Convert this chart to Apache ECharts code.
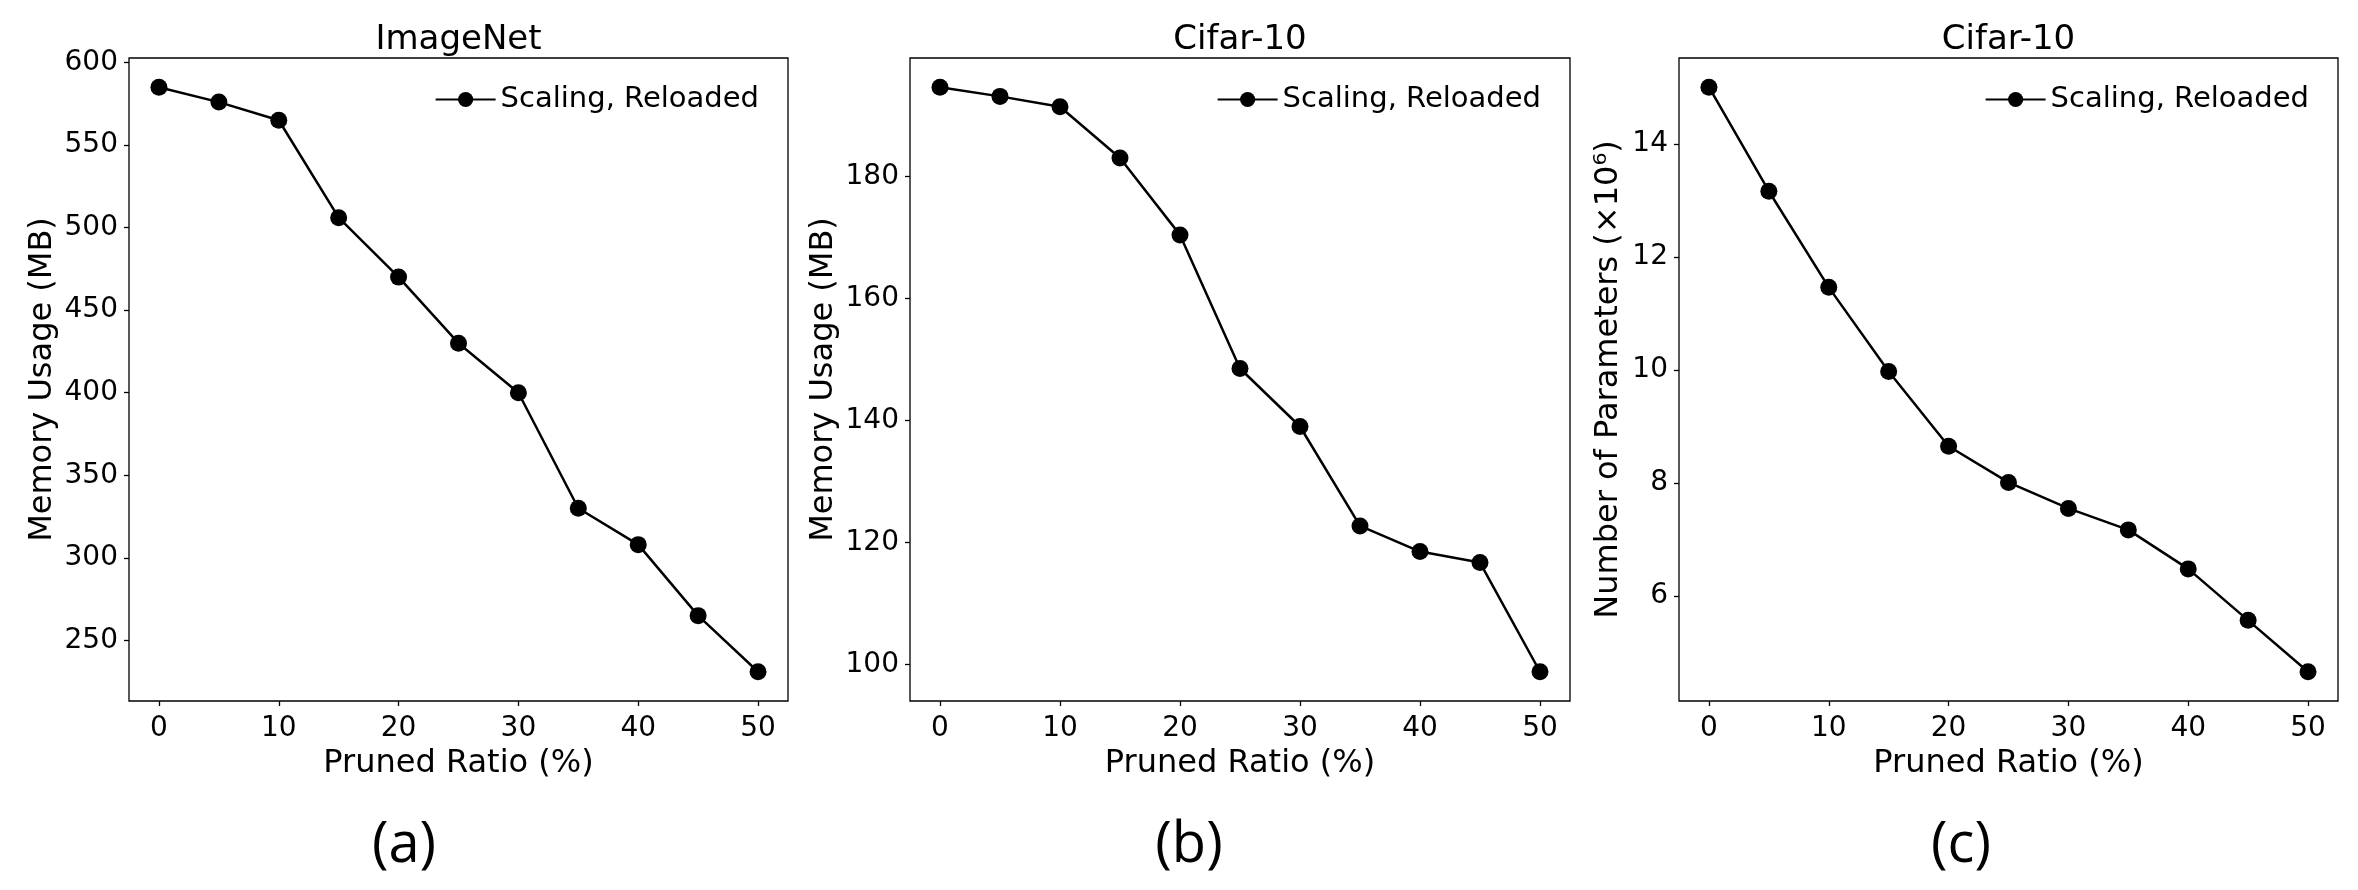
<!DOCTYPE html>
<html>
<head>
<meta charset="utf-8">
<script src="https://cdn.jsdelivr.net/npm/echarts@6/dist/echarts.min.js"></script>
<style>
  html, body { margin: 0; padding: 0; background: #fff; }
  #chart { width: 2358px; height: 890px; }
</style>
</head>
<body>
<div id="chart"></div>
<script>
// data
const prunedRatio = [0, 5, 10, 15, 20, 25, 30, 35, 40, 45, 50];
const memImageNet = [585, 576, 565, 506, 470, 430, 400, 330, 308, 265, 231];
const memCifar = [194.6, 193.1, 191.4, 183.0, 170.4, 148.5, 139.0, 122.7, 118.5, 116.7, 98.8];
const paramsCifar = [15.0, 13.16, 11.46, 9.97, 8.65, 8.01, 7.55, 7.17, 6.48, 5.57, 4.66];

// tick labels
const xTicks = [0, 10, 20, 30, 40, 50];
const yTicksA = [250, 300, 350, 400, 450, 500, 550, 600];
const yTicksB = [100, 120, 140, 160, 180];
const yTicksC = [6, 8, 10, 12, 14];

const titles = ['ImageNet', 'Cifar-10', 'Cifar-10'];
const yNames = ['Memory Usage (MB)', 'Memory Usage (MB)', 'Number of Parameters (\u00d710\u2076)'];
const panelLabels = ['(a)', '(b)', '(c)'];
const seriesName = 'Scaling, Reloaded';

const FONT = 'DejaVu Sans';
const panels = [
    { left: 129, width: 659, values: memImageNet, ticks: yTicksA, nameGap: 70, labelX: 404 },
    { left: 910, width: 660, values: memCifar, ticks: yTicksB, nameGap: 70, labelX: 1189 },
    { left: 1679, width: 659, values: paramsCifar, ticks: yTicksC, nameGap: 54, labelX: 1961 }
];

// matplotlib-like 5% margins
function padExtent(arr) {
    const lo = Math.min(...arr), hi = Math.max(...arr);
    const m = (hi - lo) * 0.05;
    return [lo - m, hi + m];
}

const chart = echarts.init(document.getElementById('chart'));

const grids = [], xAxes = [], yAxes = [], series = [], legends = [], graphics = [];

panels.forEach((p, i) => {
    grids.push({
        left: p.left, top: 58, width: p.width, height: 643,
        show: true, borderColor: '#000', borderWidth: 1.3,
        outerBoundsMode: 'none'
    });
    xAxes.push({
        gridIndex: i, type: 'value', min: -2.5, max: 52.5,
        name: 'Pruned Ratio (%)', nameLocation: 'middle', nameGap: 33,
        nameTextStyle: { fontSize: 32, color: '#000', fontFamily: FONT },
        axisLine: { show: false, onZero: false },
        axisTick: { show: true, inside: false, length: 5, customValues: xTicks, lineStyle: { color: '#000', width: 1.3 } },
        axisLabel: { customValues: xTicks, fontSize: 28, color: '#000', margin: 14, fontFamily: FONT },
        splitLine: { show: false }
    });
    const ext = padExtent(p.values);
    yAxes.push({
        gridIndex: i, type: 'value', min: ext[0], max: ext[1],
        name: yNames[i], nameLocation: 'middle', nameGap: p.nameGap,
        nameTextStyle: { fontSize: 32, color: '#000', fontFamily: FONT },
        axisLine: { show: false, onZero: false },
        axisTick: { show: true, inside: false, length: 5, customValues: p.ticks, lineStyle: { color: '#000', width: 1.3 } },
        axisLabel: { customValues: p.ticks, fontSize: 28, color: '#000', margin: 11, fontFamily: FONT },
        splitLine: { show: false }
    });
    series.push({
        name: seriesName, type: 'line', xAxisIndex: i, yAxisIndex: i,
        data: prunedRatio.map((x, k) => [x, p.values[k]]),
        symbol: 'circle', symbolSize: 17,
        itemStyle: { color: '#000' },
        lineStyle: { color: '#000', width: 2.5 },
        animation: false
    });
    legends.push({
        data: [seriesName], right: 2358 - (p.left + p.width - 29), top: 85, padding: 0,
        itemWidth: 60, itemHeight: 19, itemGap: 0,
        textStyle: { fontSize: 29, color: '#000', fontFamily: FONT }
    });
    graphics.push({
        type: 'text', x: p.left + p.width / 2, y: 40,
        style: { text: titles[i], fontSize: 34, fontFamily: FONT, fill: '#000', align: 'center', verticalAlign: 'middle' }
    });
    graphics.push({
        type: 'text', x: p.labelX, y: 846,
        style: { text: panelLabels[i], fontSize: 56, fontFamily: 'Open Sans', fill: '#000', align: 'center', verticalAlign: 'middle' }
    });
});

chart.setOption({
    animation: false,
    backgroundColor: '#fff',
    grid: grids,
    xAxis: xAxes,
    yAxis: yAxes,
    legend: legends,
    series: series,
    graphic: graphics
});
</script>
</body>
</html>
